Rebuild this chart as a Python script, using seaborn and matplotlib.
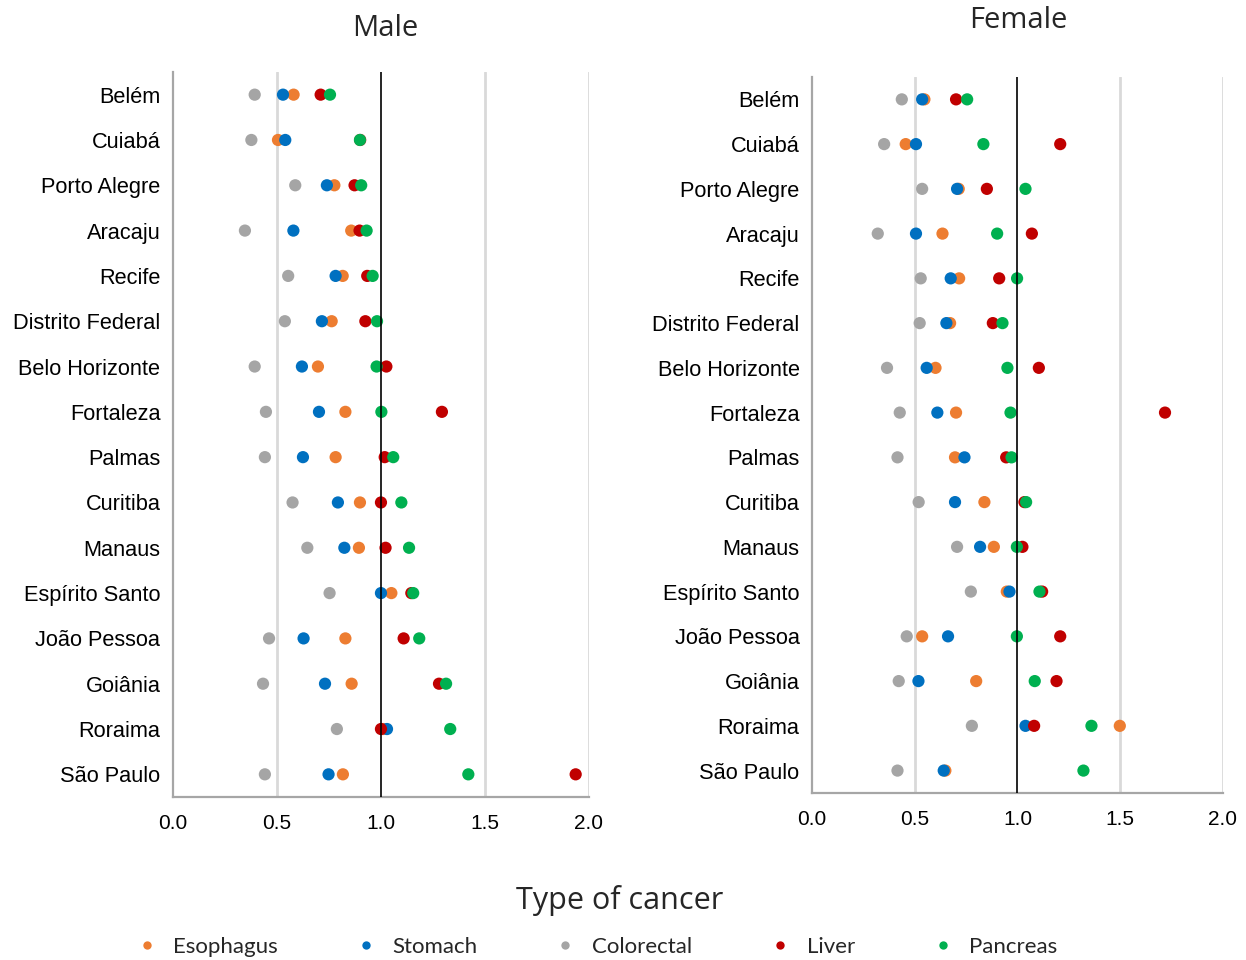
import numpy as np
import pandas as pd
import seaborn as sns
import matplotlib.pyplot as plt
from matplotlib.lines import Line2D

cities = ["Belém", "Cuiabá", "Porto Alegre", "Aracaju", "Recife", "Distrito Federal",
          "Belo Horizonte", "Fortaleza", "Palmas", "Curitiba", "Manaus", "Espírito Santo",
          "João Pessoa", "Goiânia", "Roraima", "São Paulo"]
cancer_types = ["Esophagus", "Stomach", "Colorectal", "Liver", "Pancreas"]
cancer_colors = ["#ED7D31", "#0070C0", "#A5A5A5", "#C00000", "#00B050"]

male_esophagus = [0.580, 0.505, 0.776, 0.857, 0.816, 0.763, 0.697, 0.829, 0.782, 0.899,
                  0.894, 1.050, 0.829, 0.859, 1.010, 0.817]
male_stomach = [0.529, 0.540, 0.740, 0.579, 0.782, 0.716, 0.620, 0.702, 0.625, 0.793,
                0.824, 1.000, 0.628, 0.731, 1.029, 0.748]
male_colorectal = [0.393, 0.377, 0.588, 0.346, 0.554, 0.538, 0.393, 0.447, 0.442, 0.575,
                   0.646, 0.753, 0.462, 0.433, 0.788, 0.442]
male_liver = [0.710, 0.900, 0.873, 0.897, 0.934, 0.925, 1.026, 1.293, 1.018, 1.000,
              1.022, 1.146, 1.109, 1.279, 1.000, 1.936]
male_pancreas = [0.755, 0.899, 0.905, 0.931, 0.960, 0.981, 0.979, 1.002, 1.059, 1.098,
                 1.135, 1.155, 1.184, 1.313, 1.333, 1.420]

female_esophagus = [0.547, 0.456, 0.714, 0.635, 0.716, 0.672, 0.601, 0.701, 0.696, 0.839,
                    0.885, 0.948, 0.536, 0.799, 1.498, 0.649]
female_stomach = [0.536, 0.506, 0.706, 0.506, 0.675, 0.654, 0.558, 0.610, 0.742, 0.696,
                  0.818, 0.961, 0.662, 0.518, 1.039, 0.641]
female_colorectal = [0.437, 0.351, 0.536, 0.320, 0.529, 0.524, 0.365, 0.427, 0.416, 0.519,
                     0.706, 0.773, 0.461, 0.422, 0.778, 0.416]
female_liver = [0.701, 1.208, 0.851, 1.070, 0.911, 0.880, 1.104, 1.718, 0.945, 1.034,
                1.024, 1.120, 1.208, 1.190, 1.081, np.nan]
female_pancreas = [0.755, 0.834, 1.039, 0.901, 0.998, 0.927, 0.951, 0.966, 0.971, 1.042,
                   0.997, 1.107, 0.997, 1.084, 1.360, 1.321]

x_ticks = [0.0, 0.5, 1.0, 1.5, 2.0]
x_tick_labels = ["0.0", "0.5", "1.0", "1.5", "2.0"]


def long_frame(series):
    parts = []
    for name, vals in zip(cancer_types, series):
        parts.append(pd.DataFrame({"city": cities, "cancer": name, "value": vals}))
    return pd.concat(parts, ignore_index=True).dropna()


male_df = long_frame([male_esophagus, male_stomach, male_colorectal, male_liver, male_pancreas])
female_df = long_frame([female_esophagus, female_stomach, female_colorectal, female_liver,
                        female_pancreas])

sns.set_style("white")
plt.rcParams["font.family"] = ["Liberation Sans", "DejaVu Sans"]

fig = plt.figure(figsize=(12.46, 9.6), dpi=100)
ax_m = fig.add_axes([0.1388, 0.1698, 0.3339, 0.7552])
ax_f = fig.add_axes([0.6517, 0.1740, 0.3298, 0.7458])

palette = dict(zip(cancer_types, cancer_colors))

for ax, df in [(ax_m, male_df), (ax_f, female_df)]:
    sns.stripplot(data=df, x="value", y="city", hue="cancer", hue_order=cancer_types,
                  order=cities, palette=palette, jitter=False, size=8.8, linewidth=0,
                  orient="h", legend=False, ax=ax, zorder=2)
    ax.set_xlim(0, 2.0)
    ax.set_ylim(15.5, -0.5)
    for gx in (0.5, 1.5, 2.0):
        ax.axvline(gx, color="#d9d9d9", lw=2, zorder=0)
    ax.axvline(1.0, color="black", lw=1.2, zorder=3)
    ax.set_xticks(x_ticks)
    ax.set_xticklabels(x_tick_labels)
    ax.set_xlabel("")
    ax.set_ylabel("")
    ax.tick_params(axis="y", length=0, pad=9, labelsize=15.7, labelcolor="#000000")
    ax.tick_params(axis="x", length=0, pad=12, labelsize=15, labelcolor="#000000")
    for side in ("top", "right"):
        ax.spines[side].set_visible(False)
    for side in ("left", "bottom"):
        ax.spines[side].set_color("#a6a6a6")
        ax.spines[side].set_linewidth(1.6)
    ax.grid(False)

fig.text(385 / 1246, 1 - 28 / 960, "Male", ha="center", va="center", fontsize=21,
         family=["Open Sans", "DejaVu Sans"], color="#262626")
fig.text(1018 / 1246, 1 - 21 / 960, "Female", ha="center", va="center", fontsize=21,
         family=["Open Sans", "DejaVu Sans"], color="#262626")

fig.text(620 / 1246, 1 - 900 / 960, "Type of cancer", ha="center", va="center",
         fontsize=22, family=["Open Sans", "DejaVu Sans"], color="#262626")

handles = [Line2D([0], [0], marker="o", linestyle="", markersize=6, markerfacecolor=c,
                  markeredgewidth=0) for c in cancer_colors]
fig.legend(handles, cancer_types, loc="center", bbox_to_anchor=(597 / 1246, 1 - 947 / 960),
           ncol=5, frameon=False, columnspacing=3.5, handlelength=0.9,
           handletextpad=0.75, prop={"family": ["Lato", "DejaVu Sans"], "size": 16})

fig.savefig("out.png", dpi=100)
